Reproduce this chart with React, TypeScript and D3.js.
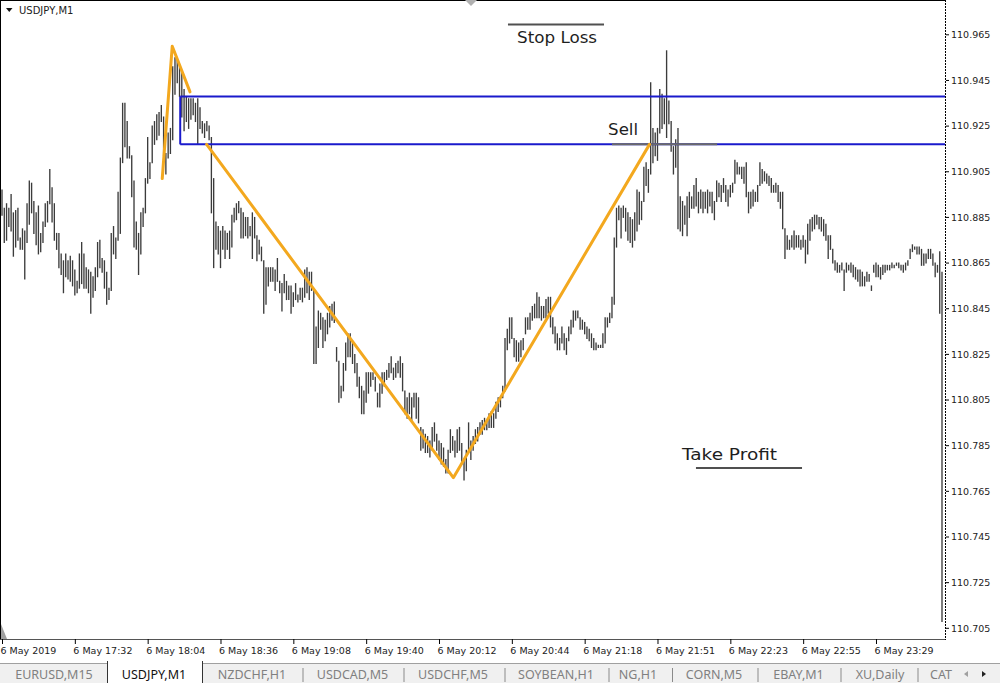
import React from 'react';
import * as d3 from 'd3';

const timeLabels = ['6 May 2019', '6 May 17:32', '6 May 18:04', '6 May 18:36', '6 May 19:08', '6 May 19:40', '6 May 20:12', '6 May 20:44', '6 May 21:18', '6 May 21:51', '6 May 22:23', '6 May 22:55', '6 May 23:29'];
const barsPerLabel = 32;
const priceTicks = [110.965, 110.945, 110.925, 110.905, 110.885, 110.865, 110.845, 110.825, 110.805, 110.785, 110.765, 110.745, 110.725, 110.705];

const highs = [
  110.897, 110.889, 110.891, 110.889, 110.895, 110.887, 110.888, 110.889, 110.876, 110.880,
  110.879, 110.891, 110.901, 110.900, 110.892, 110.887, 110.890, 110.878, 110.883, 110.891,
  110.892, 110.906, 110.898, 110.891, 110.878, 110.878, 110.869, 110.866, 110.869, 110.866,
  110.868, 110.866, 110.862, 110.857, 110.869, 110.874, 110.869, 110.863, 110.862, 110.861,
  110.859, 110.863, 110.874, 110.875, 110.867, 110.866, 110.861, 110.854, 110.878, 110.881,
  110.876, 110.896, 110.911, 110.935, 110.935, 110.927, 110.916, 110.912, 110.901, 110.883,
  110.878, 110.887, 110.889, 110.902, 110.920, 110.909, 110.925, 110.927, 110.930, 110.931,
  110.934, 110.929, 110.913, 110.922, 110.924, 110.951, 110.955, 110.955, 110.951, 110.948,
  110.941, 110.938, 110.937, 110.937, 110.937, 110.935, 110.937, 110.933, 110.927, 110.926,
  110.927, 110.925, 110.920, 110.902, 110.883, 110.881, 110.879, 110.881, 110.879, 110.878,
  110.879, 110.886, 110.889, 110.891, 110.892, 110.889, 110.887, 110.885, 110.885, 110.881,
  110.887, 110.885, 110.877, 110.875, 110.872, 110.866, 110.863, 110.863, 110.863, 110.863,
  110.862, 110.867, 110.857, 110.856, 110.860, 110.857, 110.855, 110.855, 110.852, 110.856,
  110.851, 110.854, 110.854, 110.862, 110.863, 110.861,
  110.861, 110.853, 110.837, 110.844, 110.843, 110.841, 110.840, 110.843, 110.846, 110.847,
  110.848, 110.828, 110.822, 110.811, 110.821, 110.830, 110.834, 110.834, 110.830, 110.825,
  110.821, 110.815, 110.811, 110.809, 110.817, 110.817, 110.817, 110.817, 110.815, 110.808,
  110.812, 110.817, 110.817, 110.818, 110.821, 110.824, 110.819, 110.821, 110.822, 110.824,
  110.821, 110.809, 110.806, 110.808, 110.806, 110.808, 110.808, 110.806, 110.793, 110.792,
  110.790, 110.789, 110.787, 110.793, 110.795, 110.790, 110.787, 110.786, 110.784, 110.779,
  110.783, 110.792, 110.789, 110.787, 110.792, 110.793, 110.786, 110.779, 110.783, 110.795,
  110.787, 110.789, 110.792, 110.793, 110.795, 110.796, 110.797, 110.796, 110.799, 110.800,
  110.799, 110.804, 110.806, 110.806, 110.811, 110.832, 110.836, 110.841, 110.841, 110.832,
  110.831, 110.830, 110.831, 110.832, 110.841, 110.841, 110.843, 110.846, 110.847, 110.852,
  110.850, 110.846, 110.846, 110.849, 110.850, 110.850, 110.841, 110.837, 110.834, 110.832,
  110.837, 110.834, 110.832, 110.837, 110.840, 110.844, 110.844, 110.844, 110.841, 110.840,
  110.839, 110.837, 110.836, 110.834, 110.832, 110.830, 110.829, 110.829, 110.834, 110.841,
  110.841, 110.843, 110.850, 110.876, 110.889, 110.890, 110.889, 110.890, 110.889, 110.887,
  110.885, 110.884, 110.887, 110.897, 110.896, 110.892, 110.907, 110.909, 110.906, 110.944,
  110.924, 110.922, 110.924, 110.941, 110.939, 110.937, 110.958, 110.936, 110.927, 110.916,
  110.919, 110.924, 110.894, 110.892, 110.890, 110.894, 110.896, 110.894, 110.899, 110.902,
  110.896, 110.897, 110.896, 110.896, 110.897, 110.896, 110.896, 110.892, 110.901, 110.900,
  110.899, 110.902, 110.899, 110.897, 110.899, 110.900, 110.910, 110.909, 110.907, 110.907,
  110.907, 110.909, 110.896, 110.896, 110.897, 110.896, 110.899, 110.909, 110.906, 110.905,
  110.904, 110.903, 110.902, 110.899, 110.900, 110.899, 110.896, 110.896, 110.880, 110.877,
  110.875, 110.877, 110.879, 110.877, 110.877, 110.875, 110.877, 110.875, 110.882, 110.884,
  110.885, 110.886, 110.886, 110.885, 110.885, 110.884, 110.882, 110.877, 110.877, 110.871,
  110.866, 110.865, 110.864, 110.865, 110.862, 110.865, 110.864, 110.865, 110.864, 110.863,
  110.862, 110.862, 110.861, 110.859, 110.861, 110.860, 110.855, 110.864, 110.865, 110.864,
  110.863, 110.864, 110.864, 110.864, 110.864, 110.865, 110.864, 110.865, 110.865, 110.864,
  110.864, 110.865, 110.866, 110.871, 110.873, 110.872, 110.872, 110.872, 110.871, 110.869,
  110.869, 110.871, 110.871, 110.869, 110.865, 110.864, 110.870, 110.861
];

const lows = [
  110.886, 110.874, 110.875, 110.881, 110.879, 110.868, 110.872, 110.875, 110.871, 110.871,
  110.858, 110.874, 110.882, 110.887, 110.878, 110.873, 110.869, 110.870, 110.874, 110.881,
  110.883, 110.891, 110.883, 110.875, 110.871, 110.863, 110.860, 110.852, 110.859, 110.858,
  110.857, 110.855, 110.851, 110.852, 110.854, 110.856, 110.854, 110.854, 110.852, 110.843,
  110.850, 110.853, 110.859, 110.863, 110.861, 110.854, 110.847, 110.849, 110.853, 110.869,
  110.867, 110.875, 110.878, 110.909, 110.916, 110.911, 110.911, 110.894, 110.872, 110.871,
  110.860, 110.869, 110.881, 110.887, 110.900, 110.902, 110.909, 110.917, 110.919, 110.921,
  110.927, 110.912, 110.904, 110.911, 110.913, 110.919, 110.939, 110.944, 110.938, 110.929,
  110.923, 110.927, 110.924, 110.928, 110.930, 110.927, 110.917, 110.924, 110.922, 110.920,
  110.923, 110.919, 110.887, 110.863, 110.871, 110.869, 110.863, 110.871, 110.867, 110.871,
  110.867, 110.872, 110.883, 110.884, 110.887, 110.876, 110.876, 110.877, 110.876, 110.877,
  110.867, 110.876, 110.866, 110.869, 110.866, 110.843, 110.847, 110.855, 110.857, 110.857,
  110.853, 110.857, 110.852, 110.844, 110.852, 110.849, 110.849, 110.843, 110.846, 110.849,
  110.848, 110.849, 110.848, 110.850, 110.852, 110.849,
  110.853, 110.821, 110.821, 110.828, 110.836, 110.828, 110.831, 110.834, 110.837, 110.840,
  110.839, 110.822, 110.804, 110.806, 110.809, 110.818, 110.824, 110.824, 110.821, 110.817,
  110.811, 110.806, 110.799, 110.799, 110.804, 110.808, 110.811, 110.814, 110.809, 110.802,
  110.802, 110.808, 110.811, 110.814, 110.815, 110.817, 110.814, 110.815, 110.817, 110.815,
  110.809, 110.799, 110.797, 110.799, 110.796, 110.802, 110.797, 110.795, 110.783, 110.784,
  110.782, 110.782, 110.780, 110.783, 110.787, 110.783, 110.779, 110.777, 110.776, 110.773,
  110.773, 110.782, 110.783, 110.780, 110.782, 110.783, 110.777, 110.770, 110.774, 110.783,
  110.779, 110.783, 110.786, 110.787, 110.790, 110.790, 110.792, 110.792, 110.793, 110.793,
  110.793, 110.797, 110.800, 110.802, 110.806, 110.809, 110.827, 110.830, 110.832, 110.824,
  110.822, 110.822, 110.824, 110.827, 110.834, 110.836, 110.836, 110.840, 110.841, 110.841,
  110.841, 110.840, 110.841, 110.841, 110.843, 110.837, 110.834, 110.830, 110.827, 110.827,
  110.830, 110.827, 110.825, 110.831, 110.834, 110.837, 110.840, 110.841, 110.836, 110.836,
  110.834, 110.832, 110.831, 110.828, 110.827, 110.827, 110.828, 110.828, 110.828, 110.830,
  110.837, 110.839, 110.841, 110.847, 110.872, 110.884, 110.876, 110.885, 110.879, 110.875,
  110.874, 110.872, 110.875, 110.879, 110.882, 110.884, 110.892, 110.899, 110.896, 110.904,
  110.909, 110.912, 110.910, 110.922, 110.924, 110.926, 110.920, 110.926, 110.914, 110.904,
  110.907, 110.880, 110.879, 110.877, 110.882, 110.877, 110.885, 110.889, 110.889, 110.890,
  110.887, 110.889, 110.887, 110.889, 110.887, 110.890, 110.887, 110.884, 110.892, 110.894,
  110.892, 110.896, 110.892, 110.890, 110.894, 110.896, 110.900, 110.904, 110.904, 110.902,
  110.900, 110.894, 110.887, 110.889, 110.890, 110.892, 110.892, 110.899, 110.900, 110.901,
  110.900, 110.899, 110.896, 110.896, 110.896, 110.892, 110.889, 110.880, 110.867, 110.871,
  110.871, 110.872, 110.871, 110.872, 110.872, 110.871, 110.872, 110.865, 110.869, 110.875,
  110.879, 110.880, 110.882, 110.880, 110.879, 110.877, 110.875, 110.867, 110.871, 110.865,
  110.862, 110.861, 110.861, 110.862, 110.853, 110.861, 110.862, 110.861, 110.859, 110.858,
  110.857, 110.855, 110.855, 110.855, 110.857, 110.857, 110.853, 110.861, 110.859, 110.859,
  110.858, 110.860, 110.861, 110.862, 110.862, 110.863, 110.863, 110.864, 110.863, 110.862,
  110.861, 110.862, 110.864, 110.867, 110.870, 110.871, 110.869, 110.869, 110.864, 110.864,
  110.865, 110.867, 110.867, 110.864, 110.859, 110.861, 110.843, 110.708
];

// drawn objects, anchored on bar index / price
const zigzagUp = [{ i: 70.4, p: 110.902 }, { i: 74.8, p: 110.960 }, { i: 82.6, p: 110.940 }];
const zigzagMain = [{ i: 89.9, p: 110.917 }, { i: 198.3, p: 110.771 }, { i: 284.5, p: 110.917 }];
const boxStart = 78.3;
const boxTop = 110.938;
const boxBottom = 110.917;
const sellLine = { from: 268, to: 314.2, p: 110.917 };
const stopLine = { from: 222.3, to: 264.5, p: 110.9695 };
const takeLine = { from: 304.9, to: 351.5, p: 110.7752 };
const labels = [
  { text: 'Stop Loss', i: 226.3, p: 110.9616, w: 80 },
  { text: 'Sell', i: 266.3, p: 110.9211, w: 30 },
  { text: 'Take Profit', i: 298.8, p: 110.7787, w: 95 },
];

const tabNames = ['EURUSD,M15', 'USDJPY,M1', 'NZDCHF,H1', 'USDCAD,M5', 'USDCHF,M5', 'SOYBEAN,H1', 'NG,H1', 'CORN,M5', 'EBAY,M1', 'XU,Daily', 'CAT'];
const activeTab = 1;

const tabCenters = [54, 154, 252, 352.5, 453, 556, 638, 714, 798.5, 880, 941];
const tabSeparators = [303, 404, 505, 609, 672.5, 758, 841, 918];

export default function App() {
  const W = 1000;
  const H = 683;
  const plotRight = 945;
  const plotBottom = 639;
  const x = d3.scaleLinear().domain([0, highs.length - 1]).range([2, 942]);
  const y = d3.scaleLinear().domain([110.705, 110.965]).range([628.3, 34.8]);
  const line = d3.line<{ i: number; p: number }>().x(d => x(d.i)).y(d => y(d.p));
  const font = '"DejaVu Sans", Verdana, sans-serif';

  return (
    <svg width={W} height={H} style={{ position: 'absolute', left: 0, top: 0, background: '#fff' }}>
      <defs>
        <clipPath id="plot">
          <rect x={0} y={0} width={plotRight} height={plotBottom} />
        </clipPath>
      </defs>
      <rect x={0} y={0} width={W} height={H} fill="#fff" />

      <g clipPath="url(#plot)">
        {highs.map((h, i) => (
          <line key={i} x1={x(i)} x2={x(i)} y1={y(h) - 0.5} y2={y(lows[i]) + 0.5} stroke="#3c3c3c" strokeWidth={1.35} />
        ))}

        <line x1={x(boxStart)} x2={plotRight} y1={y(boxTop)} y2={y(boxTop)} stroke="#1a1acc" strokeWidth={2} />
        <line x1={x(boxStart)} x2={plotRight} y1={y(boxBottom)} y2={y(boxBottom)} stroke="#1a1acc" strokeWidth={2} />
        <line x1={x(boxStart)} x2={x(boxStart)} y1={y(boxTop)} y2={y(boxBottom)} stroke="#1a1acc" strokeWidth={2} />

        <line x1={x(sellLine.from)} x2={x(sellLine.to)} y1={y(sellLine.p)} y2={y(sellLine.p)} stroke="#6a6a6a" strokeWidth={2} />
        <line x1={x(stopLine.from)} x2={x(stopLine.to)} y1={y(stopLine.p)} y2={y(stopLine.p)} stroke="#505050" strokeWidth={2} />
        <line x1={x(takeLine.from)} x2={x(takeLine.to)} y1={y(takeLine.p)} y2={y(takeLine.p)} stroke="#505050" strokeWidth={2} />

        <path d={line(zigzagUp) || ''} fill="none" stroke="#f3a81e" strokeWidth={3} strokeLinejoin="round" strokeLinecap="round" />
        <path d={line(zigzagMain) || ''} fill="none" stroke="#f3a81e" strokeWidth={3} strokeLinejoin="round" strokeLinecap="round" />

        {labels.map(l => (
          <text key={l.text} x={x(l.i)} y={y(l.p)} fontFamily={font} fontSize={16} fill="#1e1e1e" textLength={l.w} lengthAdjust="spacingAndGlyphs">{l.text}</text>
        ))}
      </g>

      {/* frame */}
      <line x1={0.5} x2={0.5} y1={0} y2={plotBottom} stroke="#000" strokeWidth={1} />
      <line x1={0} x2={plotRight} y1={0.5} y2={0.5} stroke="#000" strokeWidth={1} />
      <line x1={0} x2={plotRight} y1={plotBottom + 0.5} y2={plotBottom + 0.5} stroke="#555" strokeWidth={1} />
      <line x1={plotRight + 0.5} x2={plotRight + 0.5} y1={0} y2={plotBottom + 1} stroke="#000" strokeWidth={1} strokeDasharray="2 1" />
      <polygon points="465,0 477,0 471,6" fill="#b0b0b0" />
      <polygon points="1,624 1,639 7,639" fill="#a0a0a0" />

      {/* title */}
      <polygon points="6,8 12.5,8 9.25,12" fill="#111" />
      <text x={19} y={14} fontFamily={font} fontSize={10} fill="#222">USDJPY,M1</text>

      {/* price axis */}
      {priceTicks.map(p => (
        <g key={p}>
          <line x1={plotRight + 1} x2={plotRight + 4} y1={y(p)} y2={y(p)} stroke="#000" />
          <text x={951} y={y(p)} dy="0.35em" fontFamily={font} fontSize={9.5} fill="#222">{p.toFixed(3)}</text>
        </g>
      ))}

      {/* time axis */}
      {timeLabels.map((t, k) => (
        <g key={t}>
          <line x1={x(k * barsPerLabel) + 0.5} x2={x(k * barsPerLabel) + 0.5} y1={plotBottom} y2={plotBottom + 5} stroke="#000" />
          <text x={Math.max(0, x(k * barsPerLabel) - 1.5)} y={654} fontFamily={font} fontSize={9.5} fill="#222">{t}</text>
        </g>
      ))}

      {/* tab strip */}
      <rect x={0} y={663} width={W} height={H - 663} fill="#f0f0f0" />
      <line x1={0} x2={W} y1={663.5} y2={663.5} stroke="#a0a0a0" />
      <rect x={107.5} y={661} width={95} height={H - 661} fill="#fff" />
      <line x1={107.5} x2={107.5} y1={661} y2={H} stroke="#333" />
      <line x1={202.5} x2={202.5} y1={661} y2={H} stroke="#333" />
      {tabSeparators.map(s => (
        <line key={s} x1={s} x2={s} y1={668} y2={682} stroke="#8a8a8a" />
      ))}
      {tabNames.map((n, k) => (
        <text key={n} x={tabCenters[k]} y={678.5} textAnchor="middle" fontFamily='"Noto Sans", sans-serif' fontSize={12.5} fill={k === activeTab ? '#111' : '#808080'}>{n}</text>
      ))}
      <polygon points="968,671 968,677 964,674" fill="#a0a0a0" />
      <polygon points="982,671 982,677 986,674" fill="#222" />
    </svg>
  );
}
